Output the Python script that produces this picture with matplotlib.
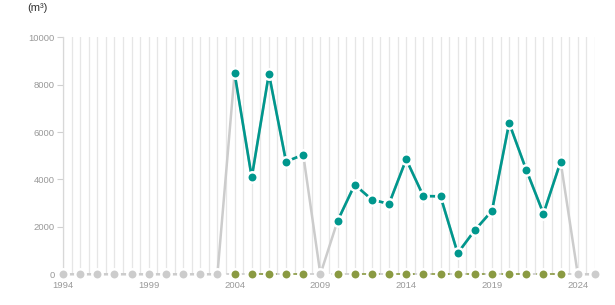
import matplotlib.pyplot as plt
from matplotlib.ticker import MultipleLocator
import numpy as np

plt.rcParams['font.family'] = ['Liberation Sans', 'DejaVu Sans']

# values per year, m3 (None = no data, drawn as grey zero)
years = list(range(1994, 2026))
volumes = [None] * 10 + [8480, 4090, 8460, 4750, 5050, None,
                         2250, 3780, 3150, 2970, 4850, 3300, 3290,
                         890, 1860, 2680, 6380, 4400, 2560, 4750,
                         None, None]

teal = '#00978d'
olive = '#8a9a42'
grey = '#cccccc'

yrs = np.array(years)
vals = np.array([np.nan if v is None else v for v in volumes], dtype=float)
has = ~np.isnan(vals)
filled = np.where(has, vals, 0)

fig = plt.figure(figsize=(6.15, 3.05), dpi=100)
ax = fig.add_axes([0.1024, 0.1007, 0.865, 0.777])

# grey connector line through all years (zeros where missing)
ax.plot(yrs, filled, color=grey, lw=1.8, zorder=2, clip_on=False)

# teal segments where data is present
teal_vals = np.where(has, vals, np.nan)
ax.plot(yrs, teal_vals, color=teal, lw=1.9, zorder=3, clip_on=False)

# zero baseline: grey dashed, olive dashed where data present
ax.plot(yrs, np.zeros(len(yrs)), color=grey, lw=1.2, ls=(0, (4, 3)), zorder=2, clip_on=False)
olive_line = np.where(has, 0, np.nan)
ax.plot(yrs, olive_line, color=olive, lw=1.2, ls=(0, (4, 3)), zorder=3, clip_on=False)

# markers
ax.plot(yrs[~has], np.zeros((~has).sum()), 'o', color=grey, ms=7.5, mec='white', mew=1.8,
        zorder=4, clip_on=False)
ax.plot(yrs[has], np.zeros(has.sum()), 'o', color=olive, ms=7.5, mec='white', mew=1.8,
        zorder=4, clip_on=False)
ax.plot(yrs[has], vals[has], 'o', color=teal, ms=7.5, mec='white', mew=1.8,
        zorder=5, clip_on=False)

ax.set_xlim(1994, 2025)
ax.set_ylim(0, 10000)
ax.xaxis.set_major_locator(MultipleLocator(5, offset=4))
ax.xaxis.set_minor_locator(MultipleLocator(0.5))
ax.set_yticks([0, 2000, 4000, 6000, 8000, 10000])

ax.grid(axis='x', which='both', color='#e6e6e6', lw=0.9)
ax.set_axisbelow(True)

for s in ['top', 'right', 'bottom']:
    ax.spines[s].set_visible(False)
ax.spines['left'].set_color('#d8d8d8')
ax.spines['left'].set_linewidth(0.9)

ax.tick_params(axis='y', length=4, width=0.8, color='#d0d0d0', labelsize=6.8,
               labelcolor='#999999', pad=2)
ax.tick_params(axis='x', which='major', length=0, labelsize=6.8, labelcolor='#999999', pad=5)
ax.tick_params(axis='x', which='minor', length=0)

fig.text(0.044, 0.975, '(m³)', fontsize=8, color='#333333', va='center', ha='left')

fig.savefig('out.png', dpi=100)
